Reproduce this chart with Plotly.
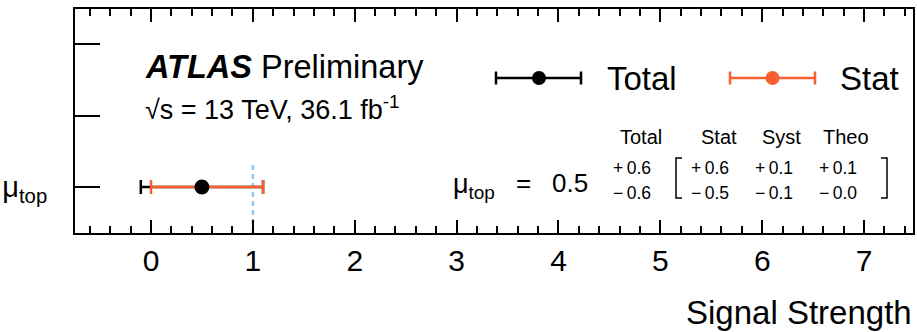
import plotly.graph_objects as go

# Fit result for the signal strength
poi_labels = ["μ<sub>top</sub>"]
mu_values = [0.5]
total_up = [0.6]
total_down = [0.6]
stat_up = [0.6]
stat_down = [0.5]
syst_up = [0.1]
syst_down = [0.1]
theo_up = [0.1]
theo_down = [0.0]
poi_rows = [0]
sm_value = 1.0

table_headers = ["Total", "Stat", "Syst", "Theo"]
x_ticks = [0, 1, 2, 3, 4, 5, 6, 7]

BLACK = "#000000"
ORANGE = "#fa5f32"
FONT = "Liberation Sans, Arial, Helvetica, sans-serif"

W, H = 917, 332
ML, MR, MT, MB = 75, 4, 9, 99
PW, PH = W - ML - MR, H - MT - MB


def px(x):
    return (x - ML) / PW


def py(y):
    return (H - MB - y) / PH


fig = go.Figure()

# total uncertainty (drawn first, under the statistical band)
fig.add_trace(go.Scatter(
    x=mu_values, y=poi_rows, mode="markers",
    marker=dict(size=1, color="rgba(0,0,0,0)"),
    error_x=dict(type="data", symmetric=False, array=total_up, arrayminus=total_down,
                 color=BLACK, thickness=2.5, width=7),
    showlegend=False, hoverinfo="skip"))

# statistical uncertainty with the central value
fig.add_trace(go.Scatter(
    x=mu_values, y=poi_rows, mode="markers",
    marker=dict(size=15, color=BLACK),
    error_x=dict(type="data", symmetric=False, array=stat_up, arrayminus=stat_down,
                 color=ORANGE, thickness=2.5, width=7),
    showlegend=False, hoverinfo="skip"))

shapes = []
# SM expectation
shapes.append(dict(type="line", xref="x", yref="y domain", x0=sm_value, x1=sm_value,
                   y0=0, y1=0.317, line=dict(color="#8ec6f7", width=2.5, dash="5px,4px"),
                   layer="below"))


# legend keys
def legend_key(x0, x1, xm, y, color):
    out = []
    out.append(dict(type="line", xref="paper", yref="paper", x0=px(x0), x1=px(x1),
                    y0=py(y), y1=py(y), line=dict(color=color, width=2.5)))
    for xc in (x0, x1):
        out.append(dict(type="line", xref="paper", yref="paper", x0=px(xc), x1=px(xc),
                        y0=py(y - 6.5), y1=py(y + 6.5), line=dict(color=color, width=2.5)))
    r = 7
    out.append(dict(type="circle", xref="paper", yref="paper", x0=px(xm - r), x1=px(xm + r),
                    y0=py(y + r), y1=py(y - r), fillcolor=color, line=dict(color=color, width=0)))
    return out


shapes += legend_key(496, 581, 539, 78, BLACK)
shapes += legend_key(730, 815, 772.5, 78, ORANGE)


# brackets around the uncertainty breakdown
def bracket(xb, top, bot, d):
    return dict(type="path", xref="paper", yref="paper",
                path=f"M {px(xb + d)} {py(top)} L {px(xb)} {py(top)} L {px(xb)} {py(bot)} L {px(xb + d)} {py(bot)}",
                line=dict(color=BLACK, width=1.5))


shapes.append(bracket(676, 158, 198, 6))
shapes.append(bracket(887, 158, 198, -6))

ann = []


def text(x, y, s, size, xanchor="center", yanchor="middle"):
    ann.append(dict(xref="paper", yref="paper", x=px(x), y=py(y), text=s, showarrow=False,
                    xanchor=xanchor, yanchor=yanchor, font=dict(family=FONT, size=size, color=BLACK)))


text(143, 67, "<b><i>ATLAS</i></b> Preliminary", 32.5, xanchor="left")
text(143, 108, "√s = 13 TeV, 36.1 fb<sup>-1</sup>", 27, xanchor="left")
text(605, 78, "Total", 33, xanchor="left")
text(838, 78, "Stat", 33, xanchor="left")

# uncertainty table
header_x = [640.5, 718.5, 781, 845.5]
for hx, h in zip(header_x, table_headers):
    text(hx, 137, h, 20)


def fmt(v, sign):
    return f"{sign}\u2009{v:.1f}"


cols = [(632, total_up, total_down), (709.5, stat_up, stat_down),
        (774, syst_up, syst_down), (838, theo_up, theo_down)]
for cx, up, dn in cols:
    text(cx, 168, fmt(up[0], "+"), 17.5)
    text(cx, 193, fmt(dn[0], "−"), 17.5)

text(451, 186, "μ<sub>top</sub>", 27, xanchor="left")
text(523, 183, "=", 26)
text(570, 183, f"{mu_values[0]:.1f}", 26)

text(914, 312, "Signal Strength", 33, xanchor="right")

fig.update_layout(
    width=W, height=H,
    margin=dict(l=ML, r=MR, t=MT, b=MB, autoexpand=False),
    paper_bgcolor="white", plot_bgcolor="white",
    shapes=shapes, annotations=ann, showlegend=False,
    font=dict(family=FONT, color=BLACK),
    xaxis=dict(range=[-0.746, 7.48], tickvals=x_ticks, ticks="inside", ticklen=13,
               tickwidth=1.5, tickcolor=BLACK, showline=True, linecolor=BLACK, linewidth=2,
               mirror="ticks", showgrid=False, zeroline=False, automargin=False,
               tickfont=dict(size=30, family=FONT, color=BLACK),
               minor=dict(dtick=0.2, tick0=0, ticks="inside", ticklen=7, tickwidth=1.5,
                          tickcolor=BLACK, showgrid=False)),
    yaxis=dict(range=[-0.643, 2.49], tickvals=[0, 1, 2],
               ticktext=[poi_labels[0], "", ""], ticks="inside", ticklen=25,
               tickwidth=1.5, tickcolor=BLACK, showline=True, linecolor=BLACK, linewidth=2,
               mirror=True, showgrid=False, zeroline=False, ticklabelstandoff=20,
               automargin=False, tickfont=dict(size=29, family=FONT, color=BLACK)),
)

fig.write_html("out.html")
